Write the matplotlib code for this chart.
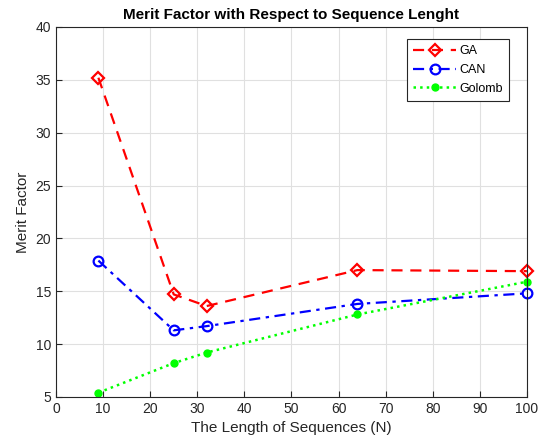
import matplotlib
matplotlib.use("Agg")
import matplotlib.pyplot as plt

plt.rcParams['font.family'] = ['Liberation Sans', 'DejaVu Sans']

# sequence lengths
N = [9, 25, 32, 64, 100]
# merit factor per method
GA = [35.2, 14.7, 13.6, 17.0, 16.9]
CAN = [17.9, 11.3, 11.7, 13.8, 14.8]
Golomb = [5.4, 8.2, 9.2, 12.8, 15.9]

fig = plt.figure(figsize=(5.41, 4.46), dpi=100)
ax = fig.add_axes([0.1035, 0.110, 0.8705, 0.8295])

ax.plot(N, GA, color='r', dashes=(5, 3.5), marker='D', markersize=6,
        markerfacecolor='none', markeredgewidth=1.6, linewidth=1.6,
        label='GA', clip_on=False)
ax.plot(N, CAN, color='b', dashes=(5, 2.5, 1.5, 2.5), marker='o', markersize=7,
        markerfacecolor='none', markeredgewidth=1.6, linewidth=1.6,
        label='CAN', clip_on=False)
ax.plot(N, Golomb, color='#00ff00', linestyle=':', marker='o', markersize=5,
        markerfacecolor='#00ff00', markeredgecolor='#00ff00', linewidth=1.8,
        label='Golomb', clip_on=False)

ax.set_xlim(0, 100)
ax.set_ylim(5, 40)
ax.set_xticks(range(0, 101, 10))
ax.set_yticks(range(5, 41, 5))
ax.grid(True, color='#e0e0e0', linewidth=0.8)
ax.set_axisbelow(True)
ax.tick_params(direction='in', labelsize=10, top=False, right=False, length=4,
               colors='#262626')
for s in ax.spines.values():
    s.set_color('#262626')
    s.set_linewidth(0.8)

ax.set_xlabel('The Length of Sequences (N)', fontsize=11, color='#262626')
ax.set_ylabel('Merit Factor', fontsize=11, color='#262626')
ax.set_title('Merit Factor with Respect to Sequence Lenght', fontsize=11,
             fontweight='bold')

leg = ax.legend(loc='upper right', bbox_to_anchor=(0.976, 0.985), fontsize=9,
                fancybox=False, edgecolor='#262626', framealpha=1,
                handlelength=3.4, borderpad=0.5, labelspacing=0.55,
                handletextpad=0.3)
leg.get_frame().set_linewidth(0.8)

fig.savefig('out.png', dpi=100)
